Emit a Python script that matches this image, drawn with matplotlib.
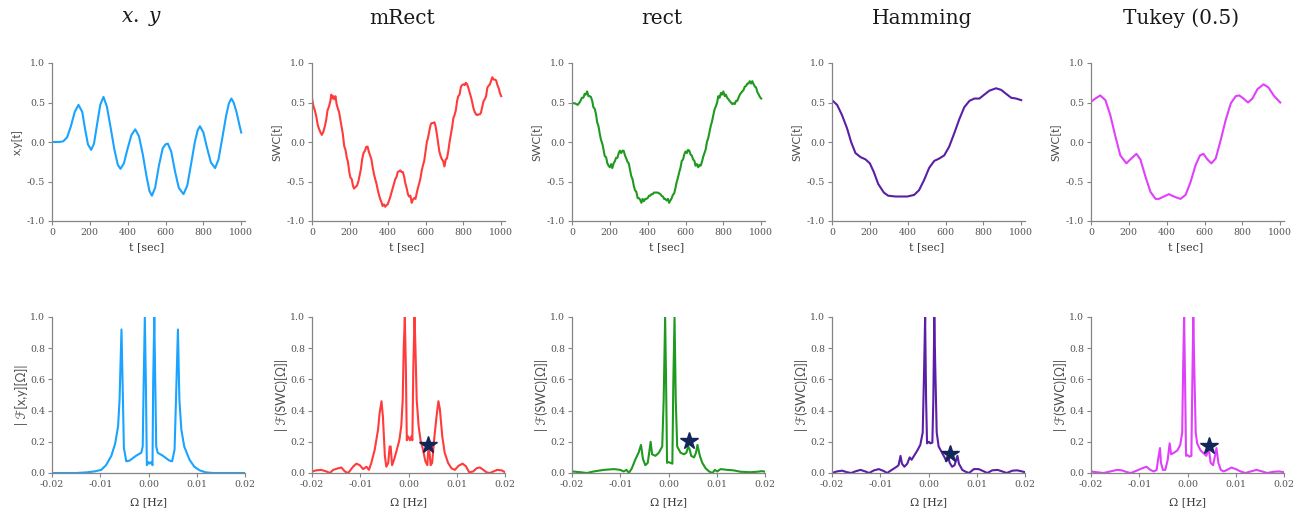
import matplotlib
matplotlib.use("Agg")
import matplotlib.pyplot as plt

plt.rcParams['mathtext.fontset'] = 'dejavuserif'

# --- time domain: x.y and the sliding-window correlation per window ---
titles = [r'$x.\ y$', 'mRect', 'rect', 'Hamming', 'Tukey (0.5)']
colors = ['#1aa3ff', '#ff3b3b', '#1f9a1f', '#5a1fa6', '#e040fb']
top_ylabels = ['x,y[t]', 'SWC[t]', 'SWC[t]', 'SWC[t]', 'SWC[t]']
bot_ylabels = ['| ℱ[x,y][Ω]|', '| ℱ(SWC)[Ω]|', '| ℱ(SWC)[Ω]|', '| ℱ(SWC)[Ω]|', '| ℱ(SWC)[Ω]|']

t_xy = [0, 40, 60, 80, 100, 120, 140, 160, 175, 190, 207, 222, 238, 255, 272, 290, 310, 330,
        348, 362, 380, 400, 420, 440, 460, 480, 500, 515, 528, 545, 565, 585, 600, 612, 630,
        650, 670, 695, 715, 735, 755, 770, 782, 800, 820, 840, 862, 880, 900, 920, 935, 948,
        960, 975, 990, 1000]
v_xy = [0.0, 0.0, 0.01, 0.06, 0.2, 0.38, 0.47, 0.38, 0.16, -0.03, -0.10, -0.02, 0.22, 0.47,
        0.57, 0.45, 0.18, -0.1, -0.29, -0.34, -0.27, -0.08, 0.09, 0.16, 0.07, -0.16, -0.44,
        -0.62, -0.68, -0.58, -0.3, -0.08, -0.03, -0.02, -0.12, -0.37, -0.58, -0.66, -0.55,
        -0.28, 0.0, 0.15, 0.20, 0.12, -0.08, -0.26, -0.33, -0.22, 0.05, 0.33, 0.49, 0.55,
        0.50, 0.38, 0.22, 0.12]

t_mrect = [0, 8, 15, 22, 30, 38, 45, 52, 60, 68, 75, 82, 90, 97, 102, 108, 113, 118, 124, 130,
           137, 143, 150, 157, 163, 170, 177, 184, 190, 197, 203, 210, 216, 222, 230, 238, 245,
           252, 258, 265, 272, 280, 287, 294, 300, 307, 314, 320, 327, 333, 340, 347, 353, 360,
           367, 373, 380, 387, 393, 400, 407, 413, 420, 427, 433, 440, 447, 453, 460, 467, 473,
           480, 487, 493, 500, 507, 513, 520, 527, 533, 540, 547, 553, 560, 567, 573, 580, 587,
           593, 600, 607, 613, 620, 627, 633, 640, 647, 653, 660, 667, 673, 680, 687, 693, 700,
           707, 713, 720, 727, 733, 740, 747, 753, 760, 767, 773, 780, 787, 793, 800, 807, 813,
           820, 827, 833, 840, 847, 853, 860, 867, 873, 880, 887, 893, 900, 907, 913, 920, 927,
           933, 940, 947, 953, 960, 967, 973, 980, 987, 993, 1000]
v_mrect = [0.55, 0.45, 0.40, 0.33, 0.22, 0.16, 0.12, 0.09, 0.13, 0.20, 0.28, 0.40, 0.45, 0.52,
           0.60, 0.55, 0.58, 0.54, 0.58, 0.48, 0.42, 0.38, 0.28, 0.18, 0.10, -0.05, -0.10, -0.20,
           -0.25, -0.38, -0.45, -0.47, -0.55, -0.59, -0.57, -0.55, -0.50, -0.42, -0.35, -0.22,
           -0.14, -0.11, -0.06, -0.06, -0.12, -0.17, -0.22, -0.31, -0.40, -0.46, -0.52, -0.60,
           -0.66, -0.72, -0.76, -0.81, -0.79, -0.82, -0.80, -0.79, -0.74, -0.70, -0.64, -0.58,
           -0.53, -0.47, -0.44, -0.38, -0.37, -0.36, -0.38, -0.38, -0.44, -0.52, -0.58, -0.66,
           -0.69, -0.68, -0.77, -0.73, -0.71, -0.72, -0.65, -0.58, -0.52, -0.46, -0.36, -0.29,
           -0.24, -0.12, 0.00, 0.05, 0.14, 0.22, 0.24, 0.24, 0.25, 0.20, 0.10, -0.02, -0.12,
           -0.18, -0.22, -0.24, -0.31, -0.22, -0.21, -0.12, 0.00, 0.08, 0.18, 0.30, 0.34, 0.40,
           0.52, 0.58, 0.60, 0.70, 0.72, 0.73, 0.72, 0.75, 0.73, 0.68, 0.63, 0.57, 0.50, 0.43,
           0.38, 0.35, 0.34, 0.35, 0.35, 0.37, 0.45, 0.52, 0.54, 0.58, 0.69, 0.71, 0.73, 0.78,
           0.82, 0.79, 0.79, 0.78, 0.72, 0.68, 0.62, 0.58]

t_rect = [0, 8, 15, 22, 30, 37, 45, 52, 60, 67, 73, 80, 87, 93, 100, 107, 113, 120, 127, 133,
          140, 147, 153, 160, 167, 173, 180, 187, 193, 200, 207, 213, 220, 227, 233, 240, 247,
          253, 260, 267, 273, 280, 287, 293, 300, 307, 313, 320, 327, 333, 340, 347, 353, 360,
          367, 373, 380, 387, 393, 400, 407, 413, 420, 427, 433, 440, 447, 453, 460, 467, 473,
          480, 487, 493, 500, 507, 513, 520, 527, 533, 540, 547, 553, 560, 567, 573, 580, 587,
          593, 600, 607, 613, 620, 627, 633, 640, 647, 653, 660, 667, 673, 680, 687, 693, 700,
          707, 713, 720, 727, 733, 740, 747, 753, 760, 767, 773, 780, 787, 793, 800, 807, 813,
          820, 827, 833, 840, 847, 853, 860, 867, 873, 880, 887, 893, 900, 907, 913, 920, 927,
          933, 940, 947, 953, 960, 967, 973, 980, 987, 993, 1000]
v_rect = [0.50, 0.49, 0.49, 0.48, 0.47, 0.49, 0.52, 0.56, 0.56, 0.61, 0.60, 0.64, 0.58, 0.58,
          0.57, 0.52, 0.44, 0.42, 0.35, 0.25, 0.20, 0.10, 0.03, -0.02, -0.10, -0.18, -0.19,
          -0.27, -0.30, -0.32, -0.28, -0.33, -0.27, -0.24, -0.20, -0.20, -0.14, -0.11, -0.14,
          -0.11, -0.11, -0.17, -0.21, -0.25, -0.27, -0.36, -0.43, -0.47, -0.56, -0.61, -0.63,
          -0.71, -0.71, -0.73, -0.77, -0.72, -0.75, -0.72, -0.72, -0.71, -0.68, -0.68, -0.66,
          -0.66, -0.64, -0.64, -0.64, -0.64, -0.65, -0.66, -0.68, -0.69, -0.72, -0.72, -0.74,
          -0.72, -0.77, -0.74, -0.71, -0.67, -0.65, -0.58, -0.51, -0.45, -0.38, -0.33, -0.24,
          -0.22, -0.16, -0.12, -0.14, -0.10, -0.11, -0.16, -0.17, -0.22, -0.24, -0.30, -0.28,
          -0.32, -0.29, -0.30, -0.25, -0.19, -0.14, -0.09, 0.00, 0.05, 0.13, 0.20, 0.26, 0.34,
          0.41, 0.45, 0.50, 0.58, 0.56, 0.62, 0.60, 0.64, 0.58, 0.60, 0.56, 0.54, 0.52, 0.50,
          0.48, 0.49, 0.48, 0.52, 0.52, 0.56, 0.60, 0.62, 0.64, 0.66, 0.70, 0.71, 0.74, 0.74,
          0.77, 0.74, 0.77, 0.73, 0.70, 0.69, 0.63, 0.60, 0.57, 0.55]

t_hamm = [0, 27, 53, 80, 101, 124, 150, 177, 200, 221, 244, 274, 297, 336, 398, 434, 460, 487,
          513, 540, 566, 593, 619, 646, 673, 699, 726, 752, 779, 805, 832, 867, 894, 920, 947,
          973, 1000]
v_hamm = [0.53, 0.47, 0.34, 0.17, 0.0, -0.14, -0.19, -0.22, -0.27, -0.38, -0.53, -0.64, -0.68,
          -0.69, -0.69, -0.67, -0.61, -0.48, -0.33, -0.24, -0.21, -0.17, -0.06, 0.11, 0.29, 0.44,
          0.52, 0.55, 0.55, 0.60, 0.65, 0.68, 0.66, 0.61, 0.56, 0.55, 0.53]

t_tukey = [0, 23, 49, 76, 102, 129, 155, 187, 208, 240, 261, 288, 314, 341, 359, 385, 412, 438,
           473, 500, 527, 553, 576, 594, 615, 636, 659, 686, 712, 739, 765, 783, 806, 830, 853,
           880, 912, 938, 968, 1000]
v_tukey = [0.51, 0.55, 0.59, 0.53, 0.34, 0.07, -0.17, -0.27, -0.22, -0.15, -0.22, -0.44, -0.63,
           -0.72, -0.72, -0.69, -0.66, -0.69, -0.72, -0.67, -0.50, -0.29, -0.17, -0.15, -0.22,
           -0.27, -0.21, 0.03, 0.28, 0.49, 0.58, 0.59, 0.55, 0.50, 0.55, 0.67, 0.73, 0.69, 0.58,
           0.50]

# --- frequency domain: normalised magnitude spectra ---
f_xy = [-0.02, -0.015, -0.0128, -0.0112, -0.0098, -0.0088, -0.0077, -0.0069, -0.0063, -0.0060,
        -0.0056, -0.0053, -0.0051, -0.0046, -0.0039, -0.0026, -0.0015, -0.0012, -0.0010,
        -0.00076, -0.00055, -0.00034, 0.0, 0.0002, 0.0006, 0.00083, 0.00097, 0.0012, 0.0014,
        0.0016, 0.0019, 0.0030, 0.0043, 0.0049, 0.0054, 0.0057, 0.0061, 0.0064, 0.0068, 0.0074,
        0.0085, 0.0095, 0.0106, 0.0119, 0.0133, 0.02]
a_xy = [0.0, 0.0, 0.004, 0.01, 0.02, 0.05, 0.11, 0.19, 0.30, 0.47, 0.92, 0.47, 0.16, 0.075, 0.08,
        0.11, 0.13, 0.17, 0.58, 1.0, 0.58, 0.05, 0.07, 0.06, 0.07, 0.05, 0.58, 1.0, 0.58, 0.17,
        0.13, 0.11, 0.08, 0.075, 0.15, 0.47, 0.92, 0.47, 0.28, 0.17, 0.085, 0.04, 0.017, 0.004,
        0.0, 0.0]

f_mrect = [-0.02, -0.0191, -0.0181, -0.0170, -0.0163, -0.0156, -0.0146, -0.0139, -0.0132,
           -0.0125, -0.0115, -0.0108, -0.0101, -0.0094, -0.0087, -0.0082, -0.0077, -0.0070,
           -0.0063, -0.0060, -0.0056, -0.0053, -0.0049, -0.0046, -0.0042, -0.0039, -0.0037,
           -0.0034, -0.0030, -0.0025, -0.0019, -0.0015, -0.0012, -0.0010, -0.00076, -0.00055,
           -0.00035, -0.0001, 0.0003, 0.0006, 0.0008, 0.0010, 0.00125, 0.00145, 0.0017, 0.0021,
           0.0025, 0.0030, 0.0035, 0.0039, 0.0041, 0.0043, 0.0046, 0.0049, 0.0053, 0.0058,
           0.0062, 0.0065, 0.0070, 0.0075, 0.0082, 0.0089, 0.0096, 0.0104, 0.0112, 0.0119,
           0.0126, 0.0134, 0.0141, 0.0148, 0.0155, 0.0162, 0.0169, 0.0176, 0.0184, 0.0193, 0.02]
a_mrect = [0.01, 0.017, 0.02, 0.01, 0.0, 0.02, 0.03, 0.035, 0.01, 0.0, 0.04, 0.06, 0.05, 0.025,
           0.04, 0.02, 0.065, 0.15, 0.28, 0.38, 0.46, 0.36, 0.11, 0.04, 0.065, 0.17, 0.17, 0.05,
           0.085, 0.14, 0.21, 0.30, 0.47, 0.79, 1.0, 0.68, 0.21, 0.235, 0.21, 0.235, 0.21, 0.68,
           1.0, 0.79, 0.47, 0.30, 0.21, 0.15, 0.075, 0.05, 0.15, 0.15, 0.05, 0.065, 0.21, 0.36,
           0.46, 0.41, 0.235, 0.13, 0.065, 0.03, 0.02, 0.047, 0.06, 0.043, 0.004, 0.01, 0.03,
           0.036, 0.02, 0.004, 0.0, 0.01, 0.02, 0.017, 0.005]

f_rect = [-0.02, -0.0183, -0.0169, -0.0155, -0.0134, -0.0113, -0.0100, -0.0093, -0.0087,
          -0.0082, -0.0076, -0.0069, -0.0062, -0.0057, -0.0053, -0.0048, -0.0043, -0.0037,
          -0.0034, -0.0027, -0.0020, -0.0013, -0.0010, -0.0007, -0.0005, -0.0003, 0.0, 0.0004,
          0.0008, 0.0010, 0.00125, 0.0015, 0.0018, 0.0025, 0.0032, 0.0037, 0.0041, 0.0044,
          0.0047, 0.0053, 0.0057, 0.0060, 0.0065, 0.0070, 0.0077, 0.0084, 0.0091, 0.0096,
          0.0101, 0.0108, 0.0122, 0.0135, 0.0149, 0.0170, 0.0184, 0.0194, 0.02]
a_rect = [0.01, 0.005, 0.0, 0.01, 0.02, 0.025, 0.02, 0.01, 0.02, 0.0, 0.03, 0.085, 0.13, 0.18,
          0.09, 0.05, 0.065, 0.20, 0.12, 0.11, 0.13, 0.17, 0.47, 1.0, 0.58, 0.065, 0.07, 0.065,
          0.06, 0.58, 1.0, 0.47, 0.17, 0.13, 0.12, 0.13, 0.17, 0.15, 0.11, 0.10, 0.13, 0.18, 0.11,
          0.065, 0.03, 0.01, 0.0, 0.02, 0.01, 0.025, 0.02, 0.017, 0.008, 0.005, 0.008, 0.012,
          0.008]

f_hamm = [-0.02, -0.0190, -0.0179, -0.0169, -0.0160, -0.0152, -0.0141, -0.0131, -0.0123,
          -0.0113, -0.0103, -0.0093, -0.0086, -0.0076, -0.0066, -0.0062, -0.0058, -0.0055,
          -0.0050, -0.0044, -0.0039, -0.0035, -0.0030, -0.0024, -0.0017, -0.0012, -0.0009,
          -0.0007, -0.0005, -0.0003, 0.0001, 0.0004, 0.0008, 0.0010, 0.0012, 0.0014, 0.0017,
          0.0021, 0.0028, 0.0034, 0.0037, 0.0041, 0.0044, 0.0049, 0.0054, 0.0060, 0.0063, 0.0070,
          0.0077, 0.0084, 0.0094, 0.0104, 0.0115, 0.0122, 0.0132, 0.0143, 0.0153, 0.0162, 0.0174,
          0.0184, 0.0194, 0.02]
a_hamm = [0.0, 0.01, 0.015, 0.005, 0.0, 0.01, 0.02, 0.01, 0.0, 0.017, 0.025, 0.013, 0.0, 0.02,
          0.04, 0.05, 0.11, 0.06, 0.04, 0.06, 0.10, 0.085, 0.11, 0.14, 0.18, 0.26, 0.68, 1.0, 0.47,
          0.19, 0.2, 0.19, 0.195, 0.47, 1.0, 0.68, 0.26, 0.17, 0.13, 0.096, 0.075, 0.10, 0.065,
          0.04, 0.05, 0.11, 0.06, 0.02, 0.008, 0.0, 0.025, 0.025, 0.01, 0.0, 0.017, 0.02, 0.01,
          0.0, 0.015, 0.017, 0.01, 0.005]

f_tukey = [-0.02, -0.0188, -0.0174, -0.0160, -0.0146, -0.0136, -0.0125, -0.0117, -0.0104,
           -0.0094, -0.0085, -0.0077, -0.0070, -0.0064, -0.0061, -0.0057, -0.0055, -0.0051,
           -0.0046, -0.0041, -0.0037, -0.0034, -0.0028, -0.0021, -0.0015, -0.0011, -0.0009,
           -0.0007, -0.0005, -0.0003, 0.0, 0.0004, 0.0008, 0.0010, 0.0012, 0.0014, 0.0017, 0.0020,
           0.0027, 0.0034, 0.0039, 0.0044, 0.0048, 0.0053, 0.0057, 0.0060, 0.0064, 0.0069, 0.0075,
           0.0082, 0.0091, 0.0100, 0.0110, 0.0120, 0.0131, 0.0143, 0.0155, 0.0165, 0.0179, 0.0190,
           0.02]
a_tukey = [0.01, 0.005, 0.0, 0.01, 0.02, 0.017, 0.005, 0.0, 0.017, 0.03, 0.04, 0.02, 0.01, 0.02,
           0.085, 0.16, 0.065, 0.02, 0.02, 0.085, 0.19, 0.12, 0.13, 0.145, 0.18, 0.26, 0.68, 1.0,
           0.58, 0.11, 0.115, 0.105, 0.11, 0.58, 1.0, 0.68, 0.26, 0.19, 0.145, 0.125, 0.11, 0.16,
           0.065, 0.05, 0.11, 0.16, 0.065, 0.02, 0.01, 0.02, 0.035, 0.025, 0.01, 0.0, 0.01, 0.02,
           0.01, 0.0, 0.008, 0.01, 0.005]

# marked spectral peak per window (no star for x.y)
star_f = [None, 0.0041, 0.0042, 0.0044, 0.0044]
star_a = [None, 0.18, 0.205, 0.125, 0.175]

top_t = [t_xy, t_mrect, t_rect, t_hamm, t_tukey]
top_v = [v_xy, v_mrect, v_rect, v_hamm, v_tukey]
bot_f = [f_xy, f_mrect, f_rect, f_hamm, f_tukey]
bot_a = [a_xy, a_mrect, a_rect, a_hamm, a_tukey]

W, H = 1307, 516
fig = plt.figure(figsize=(W / 100, H / 100), dpi=100)

lefts = [52, 312, 572, 832, 1091]
ax_w = 193
spine_c = '#858585'
tick_c = '#555555'
serif = 'DejaVu Serif'
sans = ['Lato', 'DejaVu Sans']


def style(ax):
    for s in ['top', 'right']:
        ax.spines[s].set_visible(False)
    for s in ['left', 'bottom']:
        ax.spines[s].set_color(spine_c)
        ax.spines[s].set_linewidth(0.9)
    ax.tick_params(length=3, width=0.8, color=spine_c, labelcolor=tick_c, labelsize=6.8, pad=2)
    for lab in ax.get_xticklabels() + ax.get_yticklabels():
        lab.set_family(serif)


for i in range(5):
    x0 = lefts[i]

    # time series
    ax = fig.add_axes([x0 / W, 1 - 221 / H, ax_w / W, 158 / H])
    ax.plot(top_t[i], top_v[i], color=colors[i], lw=1.5)
    ax.set_xlim(0, 1020)
    ax.set_ylim(-1, 1)
    ax.set_xticks([0, 200, 400, 600, 800, 1000])
    ax.set_yticks([-1.0, -0.5, 0.0, 0.5, 1.0])
    ax.set_yticklabels(['-1.0', '-0.5', '0.0', '0.5', '1.0'])
    style(ax)
    ax.set_xlabel('t [sec]', family=serif, fontsize=8, color='#3a3a3a')
    ax.xaxis.set_label_coords(0.49, -0.165)
    ax.xaxis.label.set_va('center')
    ax.set_ylabel(top_ylabels[i], family=sans, fontsize=8.5, color='#4d4d4d')
    ax.yaxis.set_label_coords(-0.18, 0.5)
    ax.yaxis.label.set_va('center')

    fig.text((x0 + 90) / W, 1 - 18 / H, titles[i], family=serif, fontsize=14.5,
             color='#1a1a1a', ha='center', va='center')

    # spectrum
    ax = fig.add_axes([x0 / W, 1 - 473 / H, ax_w / W, 156 / H])
    ax.plot(bot_f[i], bot_a[i], color=colors[i], lw=1.5)
    if star_f[i] is not None:
        ax.plot(star_f[i], star_a[i], marker='*', ms=13, color='#13265a', ls='none', zorder=5)
    ax.set_xlim(-0.02, 0.02)
    ax.set_ylim(0, 1)
    ax.set_xticks([-0.02, -0.01, 0.0, 0.01, 0.02])
    ax.set_xticklabels(['-0.02', '-0.01', '0.00', '0.01', '0.02'])
    ax.set_yticks([0.0, 0.2, 0.4, 0.6, 0.8, 1.0])
    ax.set_yticklabels(['0.0', '0.2', '0.4', '0.6', '0.8', '1.0'])
    style(ax)
    ax.set_xlabel('Ω [Hz]', family=serif, fontsize=8, color='#3a3a3a')
    ax.xaxis.set_label_coords(0.5, -0.186)
    ax.xaxis.label.set_va('center')
    ax.set_ylabel(bot_ylabels[i], family=sans, fontsize=9, color='#4d4d4d')
    ax.yaxis.set_label_coords(-0.16, 0.5)
    ax.yaxis.label.set_va('center')

fig.savefig('out.png', dpi=100)
